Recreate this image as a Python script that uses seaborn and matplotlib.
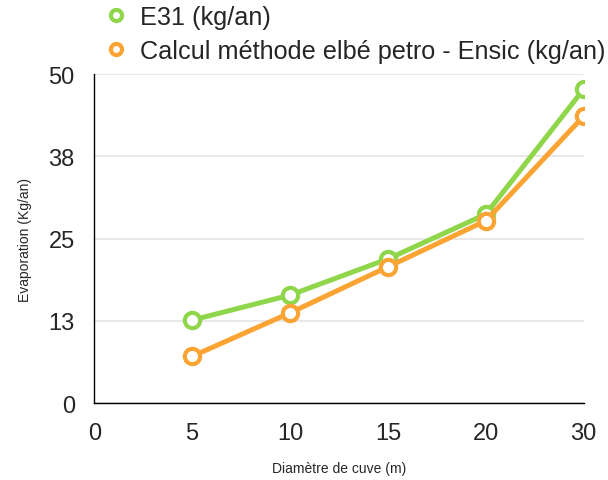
import numpy as np
import pandas as pd
import matplotlib
matplotlib.use('Agg')
import matplotlib.pyplot as plt
from matplotlib.lines import Line2D
import seaborn as sns

# données
diametres = ['0', '5', '10', '15', '20', '30']
diam_points = ['5', '10', '15', '20', '30']
e31 = [12.6, 16.4, 21.9, 28.7, 47.7]
elbe = [7.1, 13.7, 20.7, 27.7, 43.6]
noms = ['E31 (kg/an)', 'Calcul méthode elbé petro - Ensic (kg/an)']
couleurs = ['#8fd64a', '#fba434']
yticks = [0, 12.5, 25, 37.5, 50]
ylabels = ['0', '13', '25', '38', '50']

sns.set_style('white')
plt.rcParams['font.family'] = ['Liberation Sans', 'DejaVu Sans']

pos = [diametres.index(d) for d in diam_points]
df = pd.DataFrame({
    'pos': pos * 2,
    'val': e31 + elbe,
    'serie': [noms[0]] * len(e31) + [noms[1]] * len(elbe),
})

fig = plt.figure(figsize=(6.08, 4.81), dpi=100)
ax = fig.add_axes([0.155, 0.16, 0.805, 0.684])

sns.lineplot(data=df, x='pos', y='val', hue='serie', palette=couleurs,
             marker='o', markersize=11, markerfacecolor='white',
             markeredgewidth=3, linewidth=3.6, legend=False, ax=ax)
for l, c in zip(ax.lines, couleurs):
    l.set_markeredgecolor(c)

ax.set_xlim(0, 5)
ax.set_ylim(0, 50)
ax.set_xticks(range(len(diametres)))
ax.set_xticklabels(diametres, fontsize=17)
ax.set_yticks(yticks)
ax.set_yticklabels(ylabels, fontsize=17)
ax.yaxis.grid(True, color='#e4e4e4', linewidth=1.2)
ax.set_axisbelow(True)
ax.tick_params(axis='x', direction='out', length=4, width=1, color='black', pad=10)
ax.tick_params(axis='y', length=0, pad=14)
for s in ['top', 'right']:
    ax.spines[s].set_visible(False)
for s in ['left', 'bottom']:
    ax.spines[s].set_color('black')
    ax.spines[s].set_linewidth(1)
ax.set_xlabel('Diamètre de cuve (m)', fontsize=10, labelpad=12)
ax.set_ylabel('Evaporation (Kg/an)', fontsize=10, labelpad=12)

handles = [Line2D([], [], linestyle='none', marker='o', markersize=8,
                  markerfacecolor='white', markeredgecolor=c, markeredgewidth=3)
           for c in couleurs]
fig.legend(handles, noms, loc='upper left', bbox_to_anchor=(0.15, 1.02),
           frameon=False, fontsize=18.2, handletextpad=0.55, labelspacing=0.42,
           handlelength=0.8, borderaxespad=0.2)

fig.savefig('out.png', dpi=100)
